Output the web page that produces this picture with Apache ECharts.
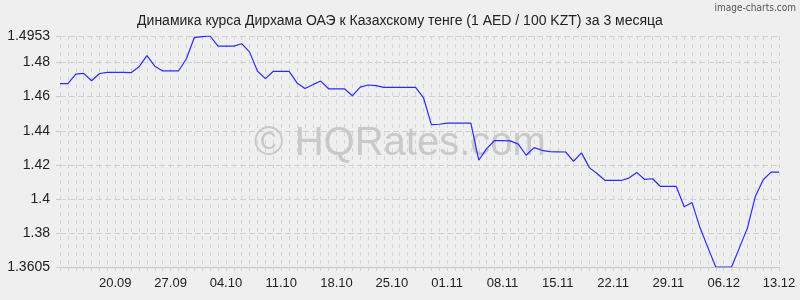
<!DOCTYPE html>
<html>
<head>
<meta charset="utf-8">
<script src="https://cdn.jsdelivr.net/npm/echarts@6/dist/echarts.min.js"></script>
<style>
html,body{margin:0;padding:0;background:#efefef;}
#chart{width:800px;height:300px;}
</style>
</head>
<body>
<div id="chart"></div>
<script>
const titleText = 'Динамика курса Дирхама ОАЭ к Казахскому тенге (1 AED / 100 KZT) за 3 месяца';
const dates = [
 '13.09','14.09','15.09','16.09','17.09','18.09','19.09','20.09','21.09','22.09','23.09','24.09','25.09','26.09','27.09','28.09','29.09','30.09',
 '01.10','02.10','03.10','04.10','05.10','06.10','07.10','08.10','09.10','10.10','11.10','12.10','13.10','14.10','15.10','16.10','17.10','18.10','19.10','20.10','21.10','22.10','23.10','24.10','25.10','26.10','27.10','28.10','29.10','30.10','31.10',
 '01.11','02.11','03.11','04.11','05.11','06.11','07.11','08.11','09.11','10.11','11.11','12.11','13.11','14.11','15.11','16.11','17.11','18.11','19.11','20.11','21.11','22.11','23.11','24.11','25.11','26.11','27.11','28.11','29.11','30.11',
 '01.12','02.12','03.12','04.12','05.12','06.12','07.12','08.12','09.12','10.12','11.12','12.12','13.12'
];
const rates = [
 1.4675,1.4675,1.4730,1.4735,1.4692,1.4734,1.4741,1.4741,1.4741,1.4739,
 1.4773,1.4839,1.4777,1.4749,1.4749,1.4749,1.4820,1.4944,1.4949,1.4953,
 1.4894,1.4894,1.4894,1.4908,1.4859,1.4747,1.4704,1.4747,1.4747,1.4747,
 1.4679,1.4647,1.4669,1.4690,1.4645,1.4645,1.4645,1.4604,1.4655,1.4667,
 1.4663,1.4653,1.4653,1.4653,1.4653,1.4653,1.4594,1.4436,1.4438,1.4445,
 1.4445,1.4445,1.4445,1.4228,1.4296,1.4343,1.4343,1.4341,1.4322,1.4257,
 1.4302,1.4286,1.4278,1.4277,1.4276,1.4222,1.4271,1.4185,1.4149,1.4110,
 1.4110,1.4110,1.4124,1.4157,1.4116,1.4120,1.4075,1.4075,1.4075,1.3957,
 1.3981,1.3835,1.3718,1.3605,1.3605,1.3605,1.3718,1.3832,1.4016,1.4114,
 1.4159,1.4159
];
const xLabels = ['20.09','27.09','04.10','11.10','18.10','25.10','01.11','08.11','15.11','22.11','29.11','06.12','13.12'];
const yTicks = [1.3605,1.38,1.4,1.42,1.44,1.46,1.48,1.4953];
const yMin = 1.3605, yMax = 1.4953;

const chart = echarts.init(document.getElementById('chart'), null, {renderer:'canvas'});
chart.setOption({
  backgroundColor:'#efefef',
  animation:false,
  title:{text:titleText,left:'center',top:9,textStyle:{fontFamily:'Liberation Sans',fontSize:14,fontWeight:'normal',color:'#222'}},
  graphic:[
    {type:'text',right:4,top:3,z:10,style:{text:'image-charts.com',fontFamily:'DejaVu Sans Condensed',fontSize:10,fill:'#555'}},
    {type:'text',left:'center',top:124,z:1,silent:true,style:{text:'© HQRates.com',fontFamily:'Liberation Sans',fontSize:40,fill:'#c9c9c9'}}
  ],
  grid:{left:60,right:21,top:36,bottom:33,containLabel:false,outerBoundsMode:'none'},
  xAxis:{
    type:'category',data:dates,boundaryGap:false,
    axisLine:{show:true,lineStyle:{color:'#c4c4c4',width:1}},
    axisTick:{show:true,interval:0,length:4,lineStyle:{color:'#d2d2d2'}},
    axisLabel:{interval:(i,v)=>xLabels.includes(v),fontFamily:'Liberation Sans',fontSize:13,color:'#222',margin:10},
    splitLine:{show:true,interval:0,lineStyle:{color:'#d6d6d6',type:[4,4],width:1}}
  },
  yAxis:{
    type:'value',min:yMin,max:yMax,
    axisLine:{show:false},
    axisTick:{show:true,customValues:yTicks,length:4,lineStyle:{color:'#c8c8c8'}},
    axisLabel:{customValues:yTicks,formatter:v=>String(+(+v).toFixed(4)),fontFamily:'Liberation Sans',fontSize:14,color:'#222',margin:10},
    splitLine:{show:true,customValues:yTicks,lineStyle:{color:'#cfcfcf',type:[6,3],width:1}}
  },
  series:[{
    type:'line',data:rates,showSymbol:false,symbol:'none',z:5,
    lineStyle:{color:'#2b2bff',width:1.2}
  }]
});
</script>
</body>
</html>
